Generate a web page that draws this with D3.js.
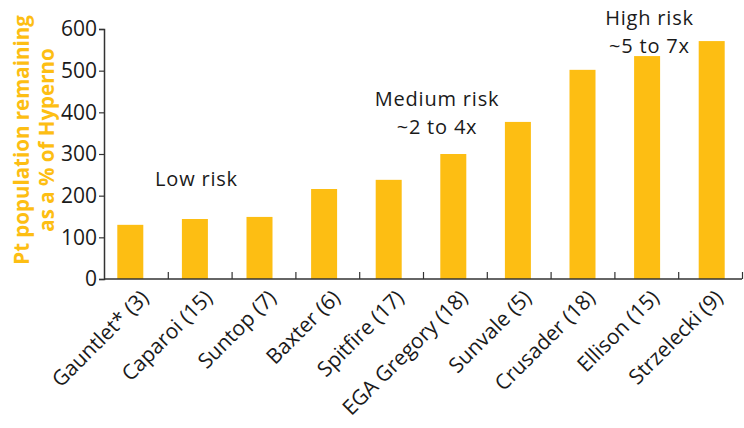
<!DOCTYPE html>
<html>
<head>
<meta charset="utf-8">
<script src="https://cdn.jsdelivr.net/npm/d3@7"></script>
<style>
  body { margin: 0; background: #fff; }
  svg { display: block; font-family: "Open Sans", sans-serif; }
</style>
</head>
<body>
<svg id="chart" width="744" height="428"></svg>
<script>
const categories = ["Gauntlet* (3)", "Caparoi (15)", "Suntop (7)", "Baxter (6)", "Spitfire (17)",
  "EGA Gregory (18)", "Sunvale (5)", "Crusader (18)", "Ellison (15)", "Strzelecki (9)"];
const values = [130, 144, 149, 216, 238, 300, 377, 502, 535, 571];
const yTicks = [0, 100, 200, 300, 400, 500, 600];
const titleLines = ["Pt population remaining", "as a % of Hyperno"];
const annotations = [
  { lines: ["Low risk"], cat: 1.45 },
  { lines: ["Medium risk", "~2 to 4x"], cat: 5.22 },
  { lines: ["High risk", "~5 to 7x"], cat: 8.55 }
];

const BAR = "#FDBE13", INK = "#1a1a1a", AXIS = "#333";
const svg = d3.select("#chart");
const pLeft = 104, pRight = 742, pTop = 29, pBottom = 279;

const y = d3.scaleLinear().domain([0, 600]).range([pBottom, pTop]);
const xb = d3.scaleBand().domain(categories).range([pLeft, pRight]);
const xbar = d3.scaleBand().domain(categories).range([pLeft - 6, pRight + 2]);
const xi = d3.scaleLinear().domain([0, categories.length]).range([pLeft, pRight]);

// bars
const bw = 26;
svg.append("g").selectAll("rect").data(categories).join("rect")
  .attr("x", d => xbar(d) + xbar.bandwidth() / 2 - bw / 2)
  .attr("width", bw)
  .attr("y", (d, i) => y(values[i]))
  .attr("height", (d, i) => y(0) - y(values[i]))
  .attr("fill", BAR);

// y axis
const ya = svg.append("g").attr("transform", `translate(${pLeft},0)`)
  .call(d3.axisLeft(y).tickValues(yTicks).tickSize(5).tickPadding(2));
ya.select(".domain").attr("stroke", AXIS).attr("stroke-width", 1.5);
ya.selectAll(".tick line").attr("stroke", AXIS).attr("stroke-width", 1.2);
ya.selectAll(".tick text").attr("font-size", 21).attr("fill", INK)
  .attr("font-family", "Open Sans, sans-serif");

// x axis boundary ticks
const xa = svg.append("g").attr("transform", `translate(0,${pBottom})`)
  .call(d3.axisBottom(xi).tickValues(d3.range(1, categories.length + 1)).tickSize(-7).tickFormat(""));
xa.select(".domain").remove();
xa.selectAll(".tick line").attr("stroke", AXIS).attr("stroke-width", 1.2);
svg.append("line").attr("x1", pLeft).attr("x2", pRight).attr("y1", pBottom).attr("y2", pBottom)
  .attr("stroke", AXIS).attr("stroke-width", 1.5);

// x labels
const xl = svg.append("g").attr("transform", `translate(0,${pBottom})`)
  .call(d3.axisBottom(xb).tickSize(0).tickPadding(0));
xl.select(".domain").remove();
xl.selectAll(".tick text")
  .attr("font-size", 21).attr("fill", INK).attr("font-family", "Open Sans, sans-serif")
  .attr("text-anchor", "end")
  .attr("dy", 0)
  .attr("transform", "translate(14,20) rotate(-45)");

// y title
const tg = svg.append("g").attr("transform", "translate(0,140) rotate(-90)");
titleLines.forEach((t, i) => {
  tg.append("text").attr("x", 0).attr("y", 29 + i * 25)
    .attr("text-anchor", "middle").attr("font-size", 20.5).attr("font-weight", 700)
    .attr("fill", BAR).text(t);
});

// annotations
const baseY = [186, 106, 25];
annotations.forEach((a, k) => {
  a.lines.forEach((line, i) => {
    svg.append("text")
      .attr("x", xi(a.cat))
      .attr("y", baseY[k] + i * 27.5)
      .attr("text-anchor", "middle").attr("font-size", 20)
      .attr("letter-spacing", 0.8).attr("fill", INK)
      .text(line);
  });
});
</script>
</body>
</html>
